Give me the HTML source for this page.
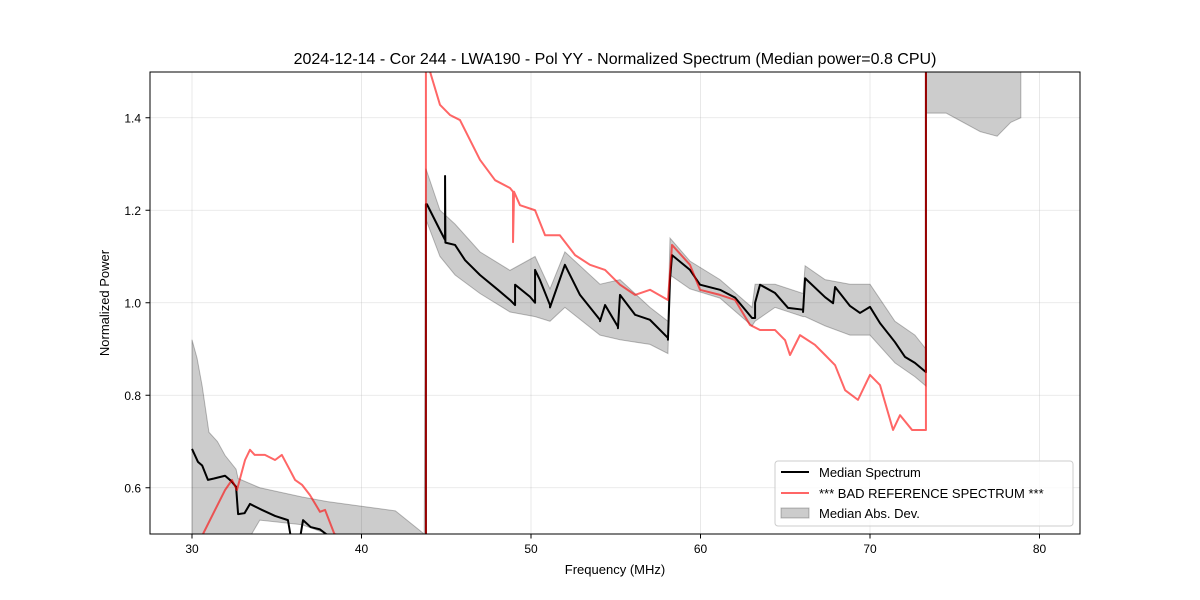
<!DOCTYPE html>
<html><head><meta charset="utf-8"><style>
body{margin:0;background:#fff}
svg{display:block;font-family:"Liberation Sans","DejaVu Sans",sans-serif}
</style></head><body>
<svg id="chart" width="1200" height="600" xmlns="http://www.w3.org/2000/svg">
<defs><clipPath id="clip"><rect x="150" y="72" width="930" height="462"/></clipPath></defs>
<rect width="1200" height="600" fill="#fff"/>
<text x="615" y="64" font-size="16" text-anchor="middle">2024-12-14 - Cor 244 - LWA190 - Pol YY - Normalized Spectrum (Median power=0.8 CPU)</text>
<g id="grid"></g>
<g id="marks" clip-path="url(#clip)"></g>
<rect x="150" y="72" width="930" height="462" fill="none" stroke="#000" stroke-width="1"/>
<g id="axes"></g>
<text x="615" y="574" font-size="13" text-anchor="middle">Frequency (MHz)</text>
<text transform="translate(109,303) rotate(-90)" font-size="13" text-anchor="middle">Normalized Power</text>
<g>
<rect x="775" y="461" width="298" height="65" rx="3" fill="#fff" fill-opacity="0.8" stroke="#ccc"/>
<line x1="781" y1="472" x2="809" y2="472" stroke="#000" stroke-width="2"/>
<text x="819" y="477" font-size="13">Median Spectrum</text>
<line x1="781" y1="493" x2="809" y2="493" stroke="#ff0000" stroke-opacity="0.6" stroke-width="2"/>
<text x="819" y="498" font-size="13">*** BAD REFERENCE SPECTRUM ***</text>
<rect x="781" y="508" width="28" height="10" fill="#000" fill-opacity="0.2" stroke="#000" stroke-opacity="0.25"/>
<text x="819" y="518" font-size="13">Median Abs. Dev.</text>
</g>
</svg>
<script>
const xTicks=[30,40,50,60,70,80];
const yTicks=[0.6,0.8,1.0,1.2,1.4];
const medF=[30.0,30.35,30.6,30.94,31.3,31.95,32.3,32.6,32.72,33.1,33.42,34.13,34.9,35.66,35.8,36.37,36.55,37.0,37.55,38.26,43.8,43.8,43.86,44.63,44.93,44.93,44.95,45.52,46.11,46.99,48.05,48.76,49.06,49.06,49.94,50.24,50.24,50.53,51.12,51.12,52.0,52.89,54.07,54.07,54.37,55.13,55.13,55.25,56.14,57.02,58.08,58.08,58.2,58.32,59.38,59.97,61.15,62.04,63.04,63.22,63.22,63.51,64.4,65.16,66.05,66.05,66.17,67.35,67.82,67.94,68.82,69.41,70.0,70.59,71.47,72.06,72.65,73.3,73.3];
const medV=[0.684,0.656,0.648,0.617,0.62,0.626,0.615,0.602,0.543,0.545,0.565,0.552,0.539,0.53,0.50,0.49,0.53,0.515,0.51,0.49,0.45,1.213,1.213,1.157,1.136,1.274,1.13,1.125,1.092,1.06,1.028,1.006,0.995,1.039,1.013,1.0,1.071,1.049,0.995,0.99,1.082,1.017,0.963,0.96,0.995,0.948,0.945,1.017,0.974,0.963,0.924,0.92,1.049,1.103,1.071,1.039,1.028,1.011,0.967,0.967,1.0,1.039,1.021,0.989,0.985,0.98,1.053,1.012,0.999,1.034,0.993,0.978,0.991,0.956,0.915,0.883,0.87,0.85,1.6];
const bandF=[30.0,30.3,30.6,31.0,31.5,31.95,32.6,32.72,34.0,36.5,38.0,40.0,42.0,43.7,43.8,44.63,45.52,46.99,48.76,50.24,51.12,52.0,54.07,55.25,57.02,58.08,58.2,59.38,61.15,63.04,63.22,64.4,66.05,66.17,67.35,68.82,70.0,71.47,72.65,73.3,73.3,74.5,75.5,76.5,77.5,78.3,78.9,78.9];
const bandHi=[0.92,0.88,0.82,0.72,0.70,0.67,0.64,0.62,0.60,0.58,0.57,0.56,0.55,0.50,1.29,1.20,1.17,1.11,1.07,1.10,1.03,1.11,1.04,1.05,0.99,0.96,1.14,1.09,1.05,0.99,1.04,1.04,1.02,1.08,1.05,1.04,1.04,0.96,0.93,0.90,1.6,1.6,1.6,1.6,1.6,1.6,1.6,1.6];
const bandLo=[0.45,0.45,0.45,0.45,0.45,0.45,0.45,0.45,0.53,0.52,0.50,0.45,0.45,0.45,1.18,1.10,1.06,1.02,0.98,0.97,0.96,0.99,0.93,0.92,0.91,0.89,1.06,1.03,1.01,0.95,0.96,0.99,0.97,0.97,0.95,0.93,0.93,0.87,0.84,0.82,1.41,1.41,1.39,1.37,1.36,1.39,1.40,1.6];
const redF=[30.65,31.36,31.95,32.36,32.65,33.13,33.42,33.7,34.3,34.9,35.3,35.78,36.08,36.5,36.96,37.55,37.85,38.4,43.8,43.8,44.04,44.63,45.22,45.81,46.4,46.99,47.88,48.76,48.94,48.94,49.0,49.35,50.24,50.83,51.7,52.6,53.48,54.37,55.25,56.14,57.02,58.08,58.32,59.38,59.97,61.15,62.04,62.92,63.51,64.4,64.99,65.28,65.87,66.75,67.35,67.94,68.53,69.29,70.0,70.59,71.36,71.77,72.48,73.3,73.3];
const redV=[0.5,0.552,0.595,0.617,0.595,0.66,0.682,0.671,0.671,0.66,0.671,0.638,0.617,0.606,0.584,0.548,0.552,0.5,0.45,1.6,1.5,1.428,1.406,1.395,1.352,1.309,1.265,1.248,1.24,1.131,1.24,1.211,1.2,1.146,1.146,1.103,1.082,1.071,1.039,1.017,1.028,1.006,1.125,1.082,1.028,1.017,1.006,0.952,0.941,0.941,0.919,0.887,0.93,0.909,0.887,0.865,0.811,0.79,0.844,0.822,0.725,0.757,0.725,0.725,1.6];
const X=f=>192+(f-30)*16.95;
const Y=v=>534-(v-0.5)*462.5;
const NS="http://www.w3.org/2000/svg";
function mk(tag,attrs,parent){const e=document.createElementNS(NS,tag);for(const k in attrs)e.setAttribute(k,attrs[k]);parent.appendChild(e);return e;}
const grid=document.getElementById('grid'),axes=document.getElementById('axes'),marks=document.getElementById('marks');
xTicks.forEach(t=>{const x=X(t);
const g=mk('line',{x1:x,x2:x,y1:72,y2:534,stroke:'#b0b0b0','stroke-opacity':0.35,'stroke-width':0.8},grid);


const tk=mk('line',{x1:x,x2:x,y1:534,y2:538.5,stroke:'#000'},axes);


const tl=mk('text',{x:x,y:553,'font-size':12,'text-anchor':'middle'},axes);tl.textContent=t;

});
yTicks.forEach(t=>{const y=Y(t);
const g=mk('line',{x1:150,x2:1080,y1:y,y2:y,stroke:'#b0b0b0','stroke-opacity':0.35,'stroke-width':0.8},grid);


const tk=mk('line',{x1:145.5,x2:150,y1:y,y2:y,stroke:'#000'},axes);


const tl=mk('text',{x:141,y:y+4.5,'font-size':12,'text-anchor':'end'},axes);tl.textContent=t.toFixed(1);

});
let d='M'+bandF.map((f,i)=>X(f)+','+Y(bandHi[i])).join('L');
for(let i=bandF.length-1;i>=0;i--)d+='L'+X(bandF[i])+','+Y(bandLo[i]);
const band=mk('path',{d:d+'Z',fill:'#000','fill-opacity':0.2,stroke:'#000','stroke-opacity':0.25,'stroke-width':1},marks);


const med=mk('path',{d:'M'+medF.map((f,i)=>X(f)+','+Y(medV[i])).join('L'),fill:'none',stroke:'#000','stroke-width':2,'stroke-linejoin':'round'},marks);


const red=mk('path',{d:'M'+redF.map((f,i)=>X(f)+','+Y(redV[i])).join('L'),fill:'none',stroke:'#ff0000','stroke-opacity':0.6,'stroke-width':2,'stroke-linejoin':'round'},marks);


</script>
</body></html>
